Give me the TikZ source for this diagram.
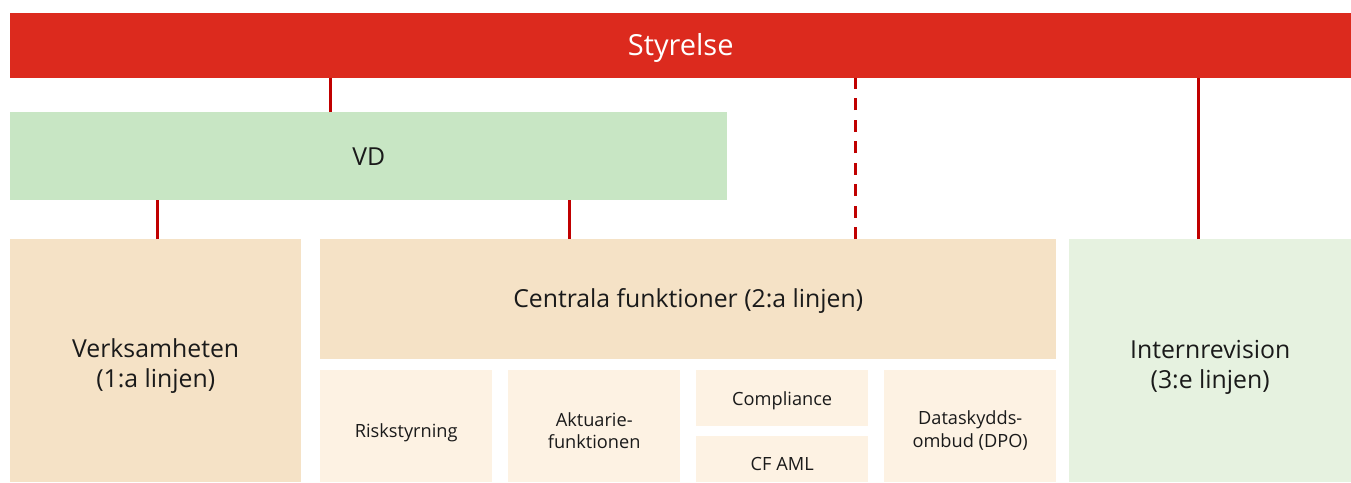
\documentclass[tikz,border=0pt]{standalone}
\usepackage{fontspec}
\setmainfont{Open Sans}
\usetikzlibrary{positioning,calc}
\definecolor{board}{HTML}{DC2A1E}
\definecolor{link}{HTML}{C00000}
\definecolor{ceo}{HTML}{C8E6C4}
\definecolor{sand}{HTML}{F5E2C6}
\definecolor{sandsoft}{HTML}{FDF2E3}
\definecolor{audit}{HTML}{E6F2E0}
\definecolor{ink}{HTML}{1A1A1A}

\begin{document}
\begin{tikzpicture}[x=1pt,y=-1pt,
  blk/.style={anchor=north west,inner sep=0pt,align=center,text=ink,
              font=\fontsize{24.8}{30}\selectfont},
  sub/.style={blk,fill=sandsoft,minimum width=172pt,font=\fontsize{18.2}{22.5}\selectfont},
  drop/.style={text depth=0pt,text height=#1},
  ln/.style={draw=link,line width=3pt}
]
\useasboundingbox (0,0) rectangle (1351,482);
% top level
\node[blk,fill=board,text=white,minimum width=1341pt,minimum height=65pt,
      font=\fontsize{29}{34}\selectfont,text depth=3pt] (sty) at (10,13) {Styrelse};
\node[blk,fill=ceo,minimum width=717pt,minimum height=88pt] (vd) at (10,112) {VD};
% lines
\node[blk,fill=sand,minimum width=291pt,minimum height=243pt,drop=54pt] (vk) at (10,239) {Verksamheten\\(1:a linjen)};
\node[blk,fill=sand,minimum width=736pt,minimum height=120pt,text depth=2pt] (cf) at (320,239) {Centrala funktioner (2:a linjen)};
\node[blk,fill=audit,minimum width=282pt,minimum height=243pt,drop=54.7pt] (ir) at (1069,239) {Internrevision\\(3:e linjen)};
% central functions
\node[sub,minimum height=112pt,drop=21.8pt] (risk) at (320,370) {Riskstyrning};
\node[sub,minimum height=112pt,drop=45.3pt] (akt) at (508,370) {Aktuarie-\\funktionen};
\node[sub,minimum height=56pt,text depth=0pt] (comp) at (696,370) {Compliance};
\node[sub,minimum height=46pt,drop=23pt] (aml) at (696,436) {CF AML};
\node[sub,minimum height=112pt,drop=42.3pt] (dpo) at (884,370) {Dataskydds-\\ombud (DPO)};

\draw[ln] ([xshift=-38.5pt]vd.north) -- ([xshift=-38.5pt]vd.north |- sty.south);
\draw[ln] ([xshift=2pt]vk.north) -- ([xshift=2pt]vk.north |- vd.south);
\draw[ln] ([xshift=-118.5pt]cf.north) -- ([xshift=-118.5pt]cf.north |- vd.south);
\draw[ln,dash pattern=on 12pt off 9.5pt] ([xshift=167.5pt]cf.north) -- ([xshift=167.5pt]cf.north |- sty.south);
\draw[ln] ([xshift=-12pt]ir.north) -- ([xshift=-12pt]ir.north |- sty.south);
\end{tikzpicture}
\end{document}
